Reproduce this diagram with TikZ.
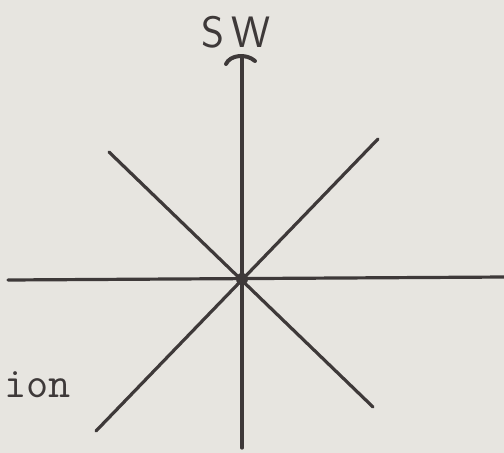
\documentclass[tikz,border=0pt]{standalone}
\usepackage{fontspec}
\usetikzlibrary{positioning, calc}
\definecolor{paper}{RGB}{231,229,224}
\definecolor{ink}{RGB}{62,57,57}

\begin{document}
\begin{tikzpicture}[
      x=1pt, y=-1pt,
      ray/.style={draw=ink, line width=3.2pt, line cap=round},
      lbl/.style={text=ink, inner sep=0pt}
    ]
    \fill[paper] (0,0) rectangle (504,453);
    \useasboundingbox (0,0) rectangle (504,453);
    % ends of the rays
    \coordinate (o)  at (242,279);
    \coordinate (n)  at (242,58);
    \coordinate (s)  at (242,448);
    \coordinate (w)  at (8,280);
    \coordinate (e)  at (506,277);
    \coordinate (nw) at (109,152);
    \coordinate (se) at (373,407);
    \coordinate (ne) at (378,139);
    \coordinate (sw) at (96,431);
    \coordinate (capl) at (226,64);
    \coordinate (capr) at (255,61);
    \draw[ray] (n) -- (s);
    \draw[ray] (w) -- (e);
    \draw[ray] (nw) -- (se);
    \draw[ray] (ne) -- (sw);
    \draw[ray, line width=4pt] (capl) .. controls (230,55) and (246,53) .. (capr);
    \fill[ink] (o) circle (6pt);
    \node[lbl, font=\sffamily\fontsize{44}{46}\selectfont] (dir) at (236,32) {S\hspace{7pt}W};
    \node[lbl, anchor=base west, font=\ttfamily\fontsize{43}{45}\selectfont] (ion) at (4,397) {ion};
  \end{tikzpicture}
\end{document}
